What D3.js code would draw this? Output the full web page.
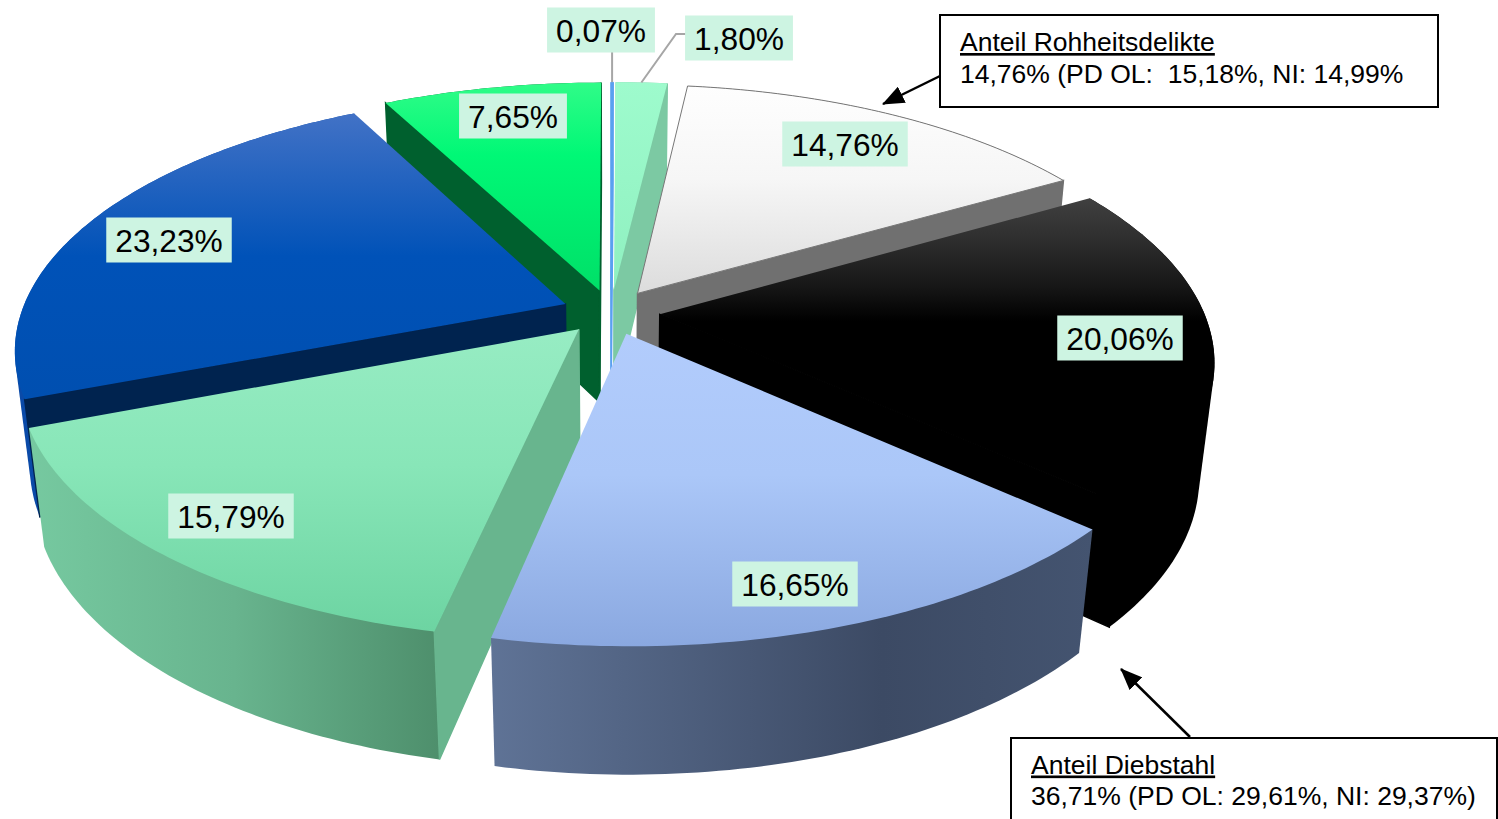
<!DOCTYPE html>
<html>
<head>
<meta charset="utf-8">
<style>
  html, body { margin: 0; padding: 0; background: #fff; overflow: hidden; }
  text { font-family: "Liberation Sans", Arial, sans-serif; fill: #000; }
</style>
</head>
<body>
<div id="chart"></div>
<script src="https://cdnjs.cloudflare.com/ajax/libs/d3/7.8.5/d3.min.js"></script>
<script>
//data, clockwise from 12 o'clock
var sliceValues = [0.07, 1.80, 14.76, 20.06, 16.65, 15.79, 23.23, 7.65];
var sliceLabels = ["0,07%", "1,80%", "14,76%", "20,06%", "16,65%", "15,79%", "23,23%", "7,65%"];
var noteRohheit = ["Anteil Rohheitsdelikte", "14,76% (PD OL:  15,18%, NI: 14,99%"];
var noteDiebstahl = ["Anteil Diebstahl", "36,71% (PD OL: 29,61%, NI: 29,37%)"];

//styles per slice
var topStops = [
  [["0%", "#5aa0f0"], ["100%", "#5aa0f0"]],
  [["0%", "#9efbcd"], ["100%", "#8ff0c0"]],
  [["0%", "#fefefe"], ["45%", "#f6f6f6"], ["100%", "#dcdcdc"]],
  [["0%", "#404040"], ["12%", "#303030"], ["28%", "#181818"], ["40%", "#000000"], ["100%", "#000000"]],
  [["0%", "#b2ccfc"], ["45%", "#abc7f8"], ["100%", "#8aa8e0"]],
  [["0%", "#97ecc3"], ["45%", "#88e6b8"], ["100%", "#6dd4a2"]],
  [["0%", "#4272c6"], ["50%", "#0052b8"], ["100%", "#004fb0"]],
  [["0%", "#30fc88"], ["35%", "#00f876"], ["100%", "#00e068"]]
];
var wallColors = ["#5aa0f0", "#7cc9a3", "#707070", "#000000", "#5f7396", "#68b58e", "#00234f", "#00602e"];
var outerStops = [
  [["0%", "#5aa0f0"], ["100%", "#5aa0f0"]],
  [["0%", "#7cc9a3"], ["100%", "#7cc9a3"]],
  [["0%", "#707070"], ["100%", "#707070"]],
  [["0%", "#000000"], ["100%", "#000000"]],
  [["0%", "#5f7396"], ["65%", "#3c4a64"], ["100%", "#445470"]],
  [["0%", "#76c9a0"], ["50%", "#68b48e"], ["100%", "#4e8f6c"]],
  [["0%", "#0a4aa8"], ["100%", "#0a4aa8"]],
  [["0%", "#00602e"], ["100%", "#00602e"]]
];
//centres of the percent labels, same order as sliceLabels
var labelCenters = [[601, 30], [739, 38], [845, 144], [1120, 338], [795, 584], [231, 516], [169, 240], [513, 116]];

//page and projection of the tilted disc
var width = 1498, height = 819;
var cx = 611, cy = 312, rx = 544, ry = 250.4;
var persp = 0.172, zShrink = 0.025, depth = 116, explode = 0.09;

var svg = d3.select("#chart").append("svg")
  .attr("width", width)
  .attr("height", height)
  .style("display", "block");
var defs = svg.append("defs");

function project(angle, r, s, z) {
  var ox = explode * Math.sin(s.mid), oy = -explode * Math.cos(s.mid);
  var X = ox + r * Math.sin(angle), Y = oy - r * Math.cos(angle);
  var w = 1 - persp * Y + zShrink * z;
  return [cx + rx * X / w, cy + (ry * Y + depth * z) / w];
}

var line = d3.line();

function addGradient(id, stops, horizontal) {
  var g = defs.append("linearGradient").attr("id", id)
    .attr("x1", 0).attr("y1", 0)
    .attr("x2", horizontal ? 1 : 0).attr("y2", horizontal ? 0 : 1);
  stops.forEach(function(st) {
    g.append("stop").attr("offset", st[0]).attr("stop-color", st[1]);
  });
}

var arcs = d3.pie().sort(null).value(function(d) { return d; })(sliceValues);
arcs.forEach(function(s) {
  s.mid = (s.startAngle + s.endAngle) / 2;
  addGradient("top" + s.index, topStops[s.index], false);
  addGradient("outer" + s.index, outerStops[s.index], true);
});

function arcPoints(s, z) {
  var n = Math.max(2, Math.ceil((s.endAngle - s.startAngle) * 60));
  return d3.range(n + 1).map(function(i) {
    return project(s.startAngle + (s.endAngle - s.startAngle) * i / n, 1, s, z);
  });
}

//a cut face only shows when looking down from its edge leaves the slice
function wallShows(s, angle) {
  var a = project(angle, 0, s, 0), b = project(angle, 1, s, 0), m = project(s.mid, 0.5, s, 0);
  var ex = b[0] - a[0], ey = b[1] - a[1];
  var inside = ex * (m[1] - a[1]) - ey * (m[0] - a[0]);
  return ex * inside < 0;
}

function wall(s, angle) {
  if (!wallShows(s, angle)) return null;
  return line([project(angle, 0, s, 0), project(angle, 1, s, 0), project(angle, 1, s, 1), project(angle, 0, s, 1)]) + "Z";
}

//back slices first, so the near ones cover them
var drawOrder = arcs.slice().sort(function(a, b) {
  return d3.descending(Math.cos(a.mid), Math.cos(b.mid));
});

var slices = svg.append("g").selectAll("g").data(drawOrder).enter().append("g");

//outer wall as a hull, so the silhouette runs straight from top rim to bottom rim
slices.append("path")
  .attr("d", function(d) { return line(d3.polygonHull(arcPoints(d, 0).concat(arcPoints(d, 1)))) + "Z"; })
  .attr("fill", function(d) { return "url(#outer" + d.index + ")"; });
//the stroke keeps white seams out of the edge shared with the top face
slices.append("path").attr("d", function(d) { return wall(d, d.startAngle); })
  .attr("fill", function(d) { return wallColors[d.index]; })
  .attr("stroke", function(d) { return wallColors[d.index]; }).attr("stroke-width", 1.5);
slices.append("path").attr("d", function(d) { return wall(d, d.endAngle); })
  .attr("fill", function(d) { return wallColors[d.index]; })
  .attr("stroke", function(d) { return wallColors[d.index]; }).attr("stroke-width", 1.5);
slices.append("path")
  .attr("d", function(d) { return line([project(d.startAngle, 0, d, 0)].concat(arcPoints(d, 0))) + "Z"; })
  .attr("fill", function(d) { return "url(#top" + d.index + ")"; })
  .attr("stroke", function(d) { return d.index === 2 ? "#777" : (d.index === 0 ? "#5aa0f0" : "none"); })
  .attr("stroke-width", 1);

//leader lines of the two small slices
var p0 = project(arcs[0].mid, 1, arcs[0], 0), p1 = project(arcs[1].mid, 1, arcs[1], 0);
svg.append("path").attr("d", line([[p0[0], 52], p0]))
  .attr("fill", "none").attr("stroke", "#a6a6a6").attr("stroke-width", 2);
svg.append("path").attr("d", line([[686, 34], [676, 34], [p1[0], p1[1]]]))
  .attr("fill", "none").attr("stroke", "#a6a6a6").attr("stroke-width", 2);

//percent labels
var labels = svg.append("g").selectAll("g").data(sliceLabels).enter().append("g")
  .attr("transform", function(d, i) { return "translate(" + labelCenters[i][0] + "," + labelCenters[i][1] + ")"; });
labels.append("text")
  .attr("text-anchor", "middle").attr("y", 11.5)
  .style("font-size", "31.7px")
  .text(function(d) { return d; });
labels.insert("rect", "text").each(function() {
  var w = this.parentNode.querySelector("text").getComputedTextLength() + 18;
  d3.select(this).attr("x", -w / 2).attr("y", -22.5).attr("width", w).attr("height", 45);
}).attr("fill", "#cdf4e2");

//annotation boxes with arrows
defs.append("marker").attr("id", "head")
  .attr("markerUnits", "userSpaceOnUse")
  .attr("viewBox", "0 0 22 18").attr("refX", 21).attr("refY", 9)
  .attr("markerWidth", 22).attr("markerHeight", 18).attr("orient", "auto")
  .append("path").attr("d", "M0,0L22,9L0,18Z").attr("fill", "#000");

function note(x, y, w, h, textY, lines, from, to) {
  svg.append("line")
    .attr("x1", from[0]).attr("y1", from[1]).attr("x2", to[0]).attr("y2", to[1])
    .attr("stroke", "#000").attr("stroke-width", 2.5).attr("marker-end", "url(#head)");
  svg.append("rect").attr("x", x).attr("y", y).attr("width", w).attr("height", h)
    .attr("fill", "#fff").attr("stroke", "#000").attr("stroke-width", 2);
  svg.append("text").attr("x", x + 20).attr("y", textY)
    .style("font-size", "26.5px").style("text-decoration", "underline").text(lines[0]);
  svg.append("text").attr("x", x + 20).attr("y", textY + 31.5)
    .style("font-size", "26.5px").style("white-space", "pre").text(lines[1]);
}
note(940, 15, 498, 92, 51, noteRohheit, [940, 76], [883, 104]);
note(1011, 738, 486, 100, 773.5, noteDiebstahl, [1190, 737], [1121, 669]);
</script>
</body>
</html>
